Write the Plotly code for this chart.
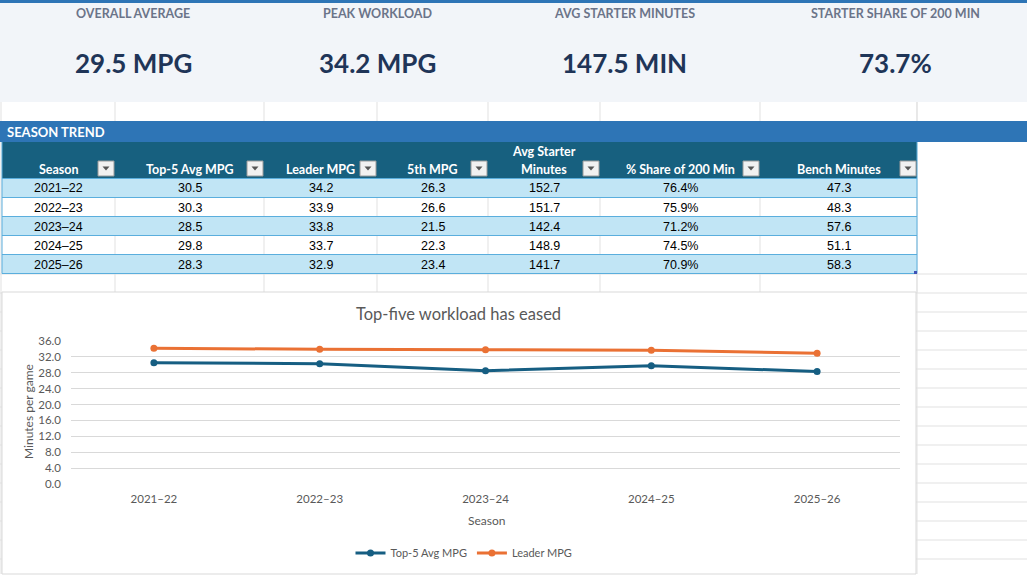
import plotly.graph_objects as go

# season table data
seasons = ["2021–22", "2022–23", "2023–24", "2024–25", "2025–26"]
top5_avg_mpg = [30.5, 30.3, 28.5, 29.8, 28.3]
leader_mpg = [34.2, 33.9, 33.8, 33.7, 32.9]
fifth_mpg = [26.3, 26.6, 21.5, 22.3, 23.4]
avg_starter_min = [152.7, 151.7, 142.4, 148.9, 141.7]
share_of_200 = [76.4, 75.9, 71.2, 74.5, 70.9]
bench_min = [47.3, 48.3, 57.6, 51.1, 58.3]

table_headers = ["Season", "Top-5 Avg MPG", "Leader MPG", "5th MPG",
                 "Avg Starter<br>Minutes", "% Share of 200 Min", "Bench Minutes"]
kpi_labels = ["OVERALL AVERAGE", "PEAK WORKLOAD", "AVG STARTER MINUTES", "STARTER SHARE OF 200 MIN"]

overall_avg = sum(top5_avg_mpg) / len(top5_avg_mpg)
peak = max(leader_mpg)
starter_avg = sum(avg_starter_min) / len(avg_starter_min)
kpi_values = [f"{overall_avg:.1f} MPG", f"{peak:.1f} MPG", f"{starter_avg:.1f} MIN",
              f"{starter_avg / 200 * 100:.1f}%"]

W, H = 1027, 575


def px(x):
    return x / W


def py(y):
    return 1 - y / H


BLUE_BAND = "#2E75B6"
HEADER = "#17607F"
ROW_BLUE = "#C1E5F5"
ROW_LINE = "#5AAEDD"
GRID = "#E1E1E1"
TEXT_GRAY = "#595959"
CHART_FONT = "Lato, Liberation Sans, sans-serif"

col_edges = [2, 115, 264, 377, 488, 600, 760, 917]
kpi_centers = [133, 377, 624, 895]
row_top, row_h = 178.5, 19

shapes = []
annotations = []


def rect(x0, y0, x1, y1, fill, line=None, width=0):
    shapes.append(dict(type="rect", xref="paper", yref="paper", layer="below",
                       x0=px(x0), x1=px(x1), y0=py(y1), y1=py(y0),
                       fillcolor=fill, line=dict(color=line or fill, width=width)))


def hline(y, x0, x1, color, width=1):
    shapes.append(dict(type="line", xref="paper", yref="paper", layer="below",
                       x0=px(x0), x1=px(x1), y0=py(y), y1=py(y),
                       line=dict(color=color, width=width)))


def vline(x, y0, y1, color, width=1):
    shapes.append(dict(type="line", xref="paper", yref="paper", layer="below",
                       x0=px(x), x1=px(x), y0=py(y0), y1=py(y1),
                       line=dict(color=color, width=width)))


def text(x, y, s, size, color, family="Liberation Sans, Arial, sans-serif", bold=False,
         xanchor="center", angle=0):
    if bold:
        s = f"<b>{s}</b>"
    annotations.append(dict(xref="paper", yref="paper", x=px(x), y=py(y), text=s,
                            showarrow=False, xanchor=xanchor, yanchor="middle",
                            textangle=angle,
                            font=dict(size=size, color=color, family=family)))


# spreadsheet gridlines
y = 274
while y < H:
    hline(y, 0, W, GRID)
    y += 19
for x in col_edges[1:]:
    vline(x, 102, 121, GRID)
    vline(x, 274, 293, GRID)
vline(917, 102, H - 1, GRID)
vline(1, 102, H - 1, GRID)

# KPI band
rect(0, 0, W, 3, BLUE_BAND)
rect(0, 3, W, 102, "#F2F5F9")
for cx, lab, val in zip(kpi_centers, kpi_labels, kpi_values):
    text(cx, 14, lab, 12.5, "#6B7489", family="Lato, sans-serif", bold=True)
    text(cx, 63, val, 26, "#1F3558", family="Lato, sans-serif", bold=True)

# season trend band and table
rect(0, 121, W, 142, BLUE_BAND)
text(5, 132, "SEASON TREND", 13, "white", family="Lato, sans-serif", bold=True, xanchor="left")
rect(2, 142, 917, row_top, HEADER)

columns = [seasons,
           [f"{v:.1f}" for v in top5_avg_mpg],
           [f"{v:.1f}" for v in leader_mpg],
           [f"{v:.1f}" for v in fifth_mpg],
           [f"{v:.1f}" for v in avg_starter_min],
           [f"{v:.1f}%" for v in share_of_200],
           [f"{v:.1f}" for v in bench_min]]

for i in range(len(seasons)):
    y0 = row_top + i * row_h
    if i % 2 == 0:
        rect(2, y0, 917, y0 + row_h, ROW_BLUE)
    else:
        for x in col_edges[1:-1]:
            vline(x, y0, y0 + row_h, GRID)
for i in range(len(seasons) + 1):
    hline(row_top + i * row_h, 2, 917, ROW_LINE)
vline(2, 142, row_top + len(seasons) * row_h, ROW_LINE)
vline(917, 142, row_top + len(seasons) * row_h, ROW_LINE)
rect(914, 271, 917, 274, "#3F51B5")

for c, (head, vals) in enumerate(zip(table_headers, columns)):
    left, right = col_edges[c], col_edges[c + 1]
    cx = (left + right) / 2
    lines = head.split("<br>")
    for k, ln in enumerate(reversed(lines)):
        text(cx, 169.5 - 18 * k, ln, 12.5, "white", family="Lato, sans-serif", bold=True)
    # filter button
    rect(right - 17, 161, right - 1, 176, "#F1F1F1", line="#9A9A9A", width=1)
    bx, by = right - 9, 168.5
    shapes.append(dict(type="path", xref="paper", yref="paper", layer="above",
                       path=f"M {px(bx - 3.5)},{py(by - 2)} L {px(bx + 3.5)},{py(by - 2)} "
                            f"L {px(bx)},{py(by + 2)} Z",
                       fillcolor="#555555", line=dict(width=0)))
    for i, v in enumerate(vals):
        text(cx, row_top + i * row_h + row_h / 2 + 0.5, v, 12.5, "black")

# chart area
rect(2, 292, 916, 574, "white", line="#D9D9D9", width=1)
text(458, 314, "Top-five workload has eased", 16.5, TEXT_GRAY, family=CHART_FONT)
text(28, 412, "Minutes per game", 12, TEXT_GRAY, family=CHART_FONT, angle=-90)
text(486, 520, "Season", 12, TEXT_GRAY, family=CHART_FONT)

fig = go.Figure()
fig.add_trace(go.Scatter(x=seasons, y=top5_avg_mpg, name="Top-5 Avg MPG", mode="lines+markers",
                         line=dict(color="#165E82", width=3), marker=dict(size=7)))
fig.add_trace(go.Scatter(x=seasons, y=leader_mpg, name="Leader MPG", mode="lines+markers",
                         line=dict(color="#EA7134", width=3), marker=dict(size=7)))

fig.update_layout(
    width=W, height=H,
    autosize=False,
    margin=dict(l=0, r=0, t=0, b=0, pad=0, autoexpand=False),
    paper_bgcolor="white",
    plot_bgcolor="rgba(0,0,0,0)",
    shapes=shapes,
    annotations=annotations,
    font=dict(family=CHART_FONT, color=TEXT_GRAY, size=11),
    xaxis=dict(domain=[px(71), px(900)], range=[-0.5, 4.5], showgrid=False,
               showline=False, zeroline=False, ticks="", ticklabelstandoff=6,
               automargin=False, tickfont=dict(size=11.5, color=TEXT_GRAY)),
    yaxis=dict(domain=[py(484), py(341)], range=[0, 36], dtick=4, tickformat=".1f",
               showgrid=True, gridcolor="#D9D9D9", gridwidth=1, zeroline=False,
               showline=False, ticks="", ticklabelstandoff=9, automargin=False,
               tickfont=dict(size=11.5, color=TEXT_GRAY)),
    legend=dict(orientation="h", x=px(464), xanchor="center", y=py(553), yanchor="middle",
                font=dict(size=11, color=TEXT_GRAY), itemwidth=30, bgcolor="rgba(0,0,0,0)"),
)

# the page has default body margins; strip them so the figure sits at the window corner
page_css = ("var s = document.createElement('style');"
            "s.innerHTML = 'html, body {margin: 0; padding: 0; overflow: hidden;}';"
            "document.head.appendChild(s);")
fig.write_html("out.html", config={"displayModeBar": False}, post_script=page_css)
